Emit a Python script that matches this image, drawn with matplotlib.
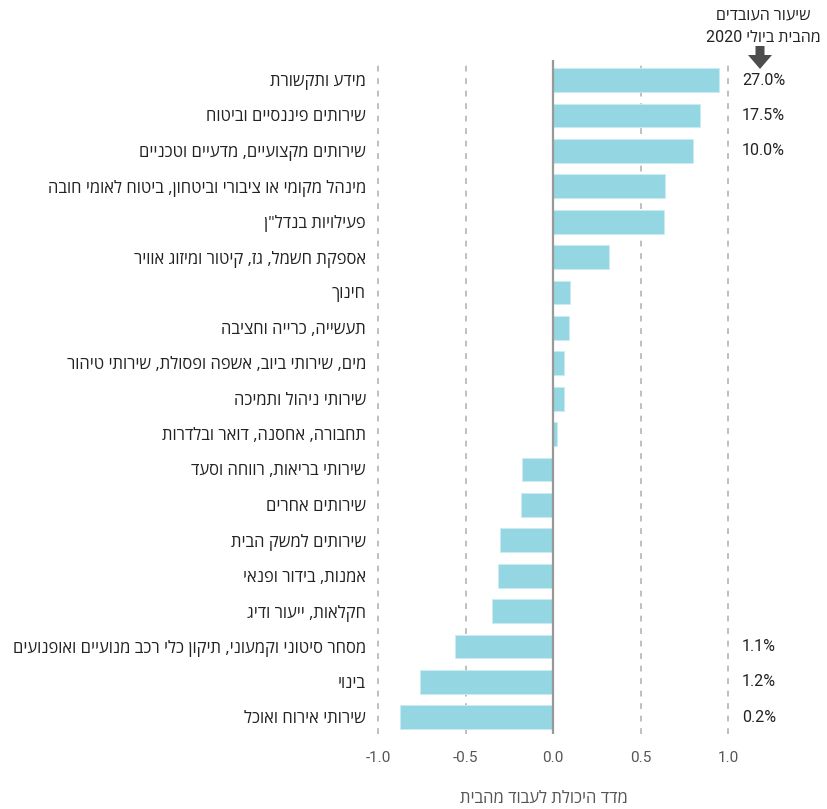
import re
import matplotlib
matplotlib.use("Agg")
import matplotlib.pyplot as plt
from matplotlib.patches import FancyArrow

categories = [
    "מידע ותקשורת",
    "שירותים פיננסיים וביטוח",
    "שירותים מקצועיים, מדעיים וטכניים",
    "מינהל מקומי או ציבורי וביטחון, ביטוח לאומי חובה",
    'פעילויות בנדל"ן',
    "אספקת חשמל, גז, קיטור ומיזוג אוויר",
    "חינוך",
    "תעשייה, כרייה וחציבה",
    "מים, שירותי ביוב, אשפה ופסולת, שירותי טיהור",
    "שירותי ניהול ותמיכה",
    "תחבורה, אחסנה, דואר ובלדרות",
    "שירותי בריאות, רווחה וסעד",
    "שירותים אחרים",
    "שירותים למשק הבית",
    "אמנות, בידור ופנאי",
    "חקלאות, ייעור ודיג",
    "מסחר סיטוני וקמעוני, תיקון כלי רכב מנועיים ואופנועים",
    "בינוי",
    "שירותי אירוח ואוכל",
]
index_values = [0.947, 0.838, 0.798, 0.640, 0.631, 0.320, 0.097, 0.088, 0.060, 0.060,
                0.021, -0.177, -0.183, -0.303, -0.314, -0.350, -0.562, -0.762, -0.873]
wfh_share = [27.0, 17.5, 10.0, None, None, None, None, None, None, None,
             None, None, None, None, None, None, 1.1, 1.2, 0.2]
xticks = [-1.0, -0.5, 0.0, 0.5, 1.0]
xtick_labels = ["-1.0", "-0.5", "0.0", "0.5", "1.0"]
x_title = "מדד היכולת לעבוד מהבית"
header = "שיעור העובדים\nמהבית ביולי 2020"


def visual(s):
    """Convert logical RTL text to visual order for LTR rendering."""
    lines = []
    for line in s.split("\n"):
        r = line[::-1]
        r = re.sub(r"[0-9A-Za-z.%]+", lambda m: m.group(0)[::-1], r)
        lines.append(r)
    return "\n".join(lines)


FAM = ["Roboto", "Open Sans", "DejaVu Sans"]
HEB = ["Open Sans", "DejaVu Sans"]
plt.rcParams["font.family"] = FAM

BAR = "#94D6E2"
fig = plt.figure(figsize=(8.28, 8.09), dpi=100)
W, H = 828, 809
x0, x1 = 369.5, 737.05
ytop, ybot = 60, 734
ax = fig.add_axes([x0 / W, (H - ybot) / H, (x1 - x0) / W, (ybot - ytop) / H])

pos = list(range(len(categories)))
ax.barh(pos, index_values, height=0.67, color=BAR, edgecolor="#c9ecf2", linewidth=0.6, zorder=2)
ax.set_xlim(-1.05, 1.05)
ax.set_ylim(18.47, -0.565)

for x in xticks:
    if x == 0:
        ax.axvline(x, color="#999999", lw=1.6, zorder=3)
    else:
        ax.axvline(x, color="#b4b4b4", lw=1.2, ls=(0, (3.5, 4)), zorder=1)

for s in ax.spines.values():
    s.set_visible(False)

ax.set_xticks(xticks)
ax.set_xticklabels(xtick_labels, fontsize=11, color="#555555", family=FAM)
ax.tick_params(axis="x", length=0, pad=12)
ax.set_yticks(pos)
ax.set_yticklabels([visual(c) for c in categories], fontsize=12, color="#222222", family=HEB)
ax.tick_params(axis="y", length=0, pad=2.5)

for p, v in zip(pos, wfh_share):
    if v is not None:
        ax.text(1.077, p, f"{v:.1f}%", ha="left", va="center", fontsize=11.5,
                color="#222222", family=FAM, clip_on=False)

fig.text(544 / W, (H - 799) / H, visual(x_title), ha="center", va="center",
         fontsize=12, color="#555555", family=HEB)
fig.text(763 / W, (H - 26) / H, visual(header), ha="center", va="center",
         fontsize=11.5, color="#222222", family=FAM, linespacing=1.6)

# downward arrow below the header
arr = FancyArrow(760 / W, (H - 46) / H, 0, -23 / H, width=9 / W, head_width=24 / W,
                 head_length=14 / H, length_includes_head=True, transform=fig.transFigure,
                 color="#4d4d4d", lw=0)
fig.patches.append(arr)

fig.savefig("out.png", dpi=100)
